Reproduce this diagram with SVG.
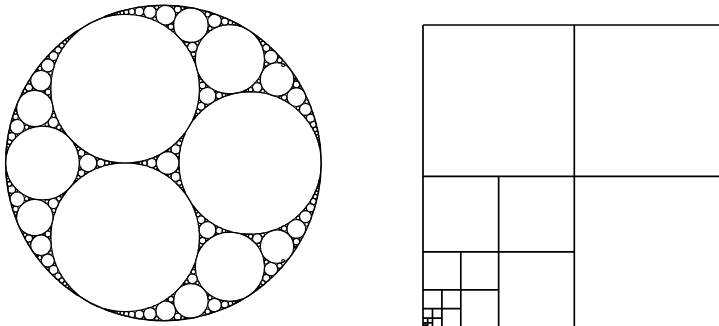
<svg xmlns="http://www.w3.org/2000/svg" xmlns:xlink="http://www.w3.org/1999/xlink" width="719" height="326" viewBox="0 0 719 326">
<style>
#gasket circle{fill:none;stroke:#000;stroke-width:1.1;vector-effect:non-scaling-stroke}
#gasket .outer{stroke-width:1.4}
#squares path{fill:none;stroke:#000;stroke-width:1.7}
</style>
<rect width="719" height="326" fill="#fff"/>
<g id="gasket" transform="translate(163.4 163) scale(157.8)">
<g id="axis">
<circle class="outer" cx="0" cy="0" r="1"/>
<circle cx="0.5494" cy="0" r="0.4506"/>
<circle cx="0.0270" cy="0" r="0.0717"/>
<circle cx="-0.7664" cy="0" r="0.2336"/>
<circle cx="-0.0740" cy="0" r="0.0293"/>
<circle cx="-0.1192" cy="0" r="0.0159"/>
<circle cx="-0.1451" cy="0" r="0.0100"/>
<circle cx="-0.1619" cy="0" r="0.0069"/>
<circle cx="-0.1738" cy="0" r="0.0050"/>
<circle cx="-0.1826" cy="0" r="0.0038"/>
<circle cx="-0.1894" cy="0" r="0.0030"/>
<circle cx="-0.4774" cy="0" r="0.0554"/>
<circle cx="-0.3973" cy="0" r="0.0248"/>
<circle cx="-0.3584" cy="0" r="0.0141"/>
<circle cx="-0.3353" cy="0" r="0.0091"/>
<circle cx="-0.3199" cy="0" r="0.0063"/>
<circle cx="-0.3089" cy="0" r="0.0047"/>
<circle cx="-0.3007" cy="0" r="0.0036"/>
<circle cx="-0.2943" cy="0" r="0.0028"/>
</g>
<g id="upper">
<circle cx="-0.2425" cy="-0.4706" r="0.4706"/>
<circle cx="0.4214" cy="-0.6574" r="0.2191"/>
<circle cx="0.1743" cy="-0.8736" r="0.1092"/>
<circle cx="0.0149" cy="-0.9374" r="0.0625"/>
<circle cx="0.3240" cy="-0.9006" r="0.0429"/>
<circle cx="0.1838" cy="-0.7341" r="0.0306"/>
<circle cx="-0.0857" cy="-0.9563" r="0.0398"/>
<circle cx="0.0906" cy="-0.9742" r="0.0216"/>
<circle cx="0.0475" cy="-0.8638" r="0.0180"/>
<circle cx="-0.1528" cy="-0.9605" r="0.0274"/>
<circle cx="-0.2003" cy="-0.9593" r="0.0200"/>
<circle cx="-0.2353" cy="-0.9563" r="0.0152"/>
<circle cx="-0.2621" cy="-0.9527" r="0.0119"/>
<circle cx="-0.2833" cy="-0.9490" r="0.0096"/>
<circle cx="-0.3004" cy="-0.9455" r="0.0079"/>
<circle cx="-0.3145" cy="-0.9423" r="0.0066"/>
<circle cx="-0.3263" cy="-0.9393" r="0.0056"/>
<circle cx="-0.3364" cy="-0.9366" r="0.0048"/>
<circle cx="-0.3450" cy="-0.9342" r="0.0042"/>
<circle cx="-0.3525" cy="-0.9319" r="0.0037"/>
<circle cx="-0.3591" cy="-0.9298" r="0.0032"/>
<circle cx="-0.3649" cy="-0.9280" r="0.0029"/>
<circle cx="-0.3700" cy="-0.9263" r="0.0026"/>
<circle cx="-0.0424" cy="-0.9863" r="0.0128"/>
<circle cx="-0.0555" cy="-0.9149" r="0.0114"/>
<circle cx="-0.1255" cy="-0.9836" r="0.0084"/>
<circle cx="-0.1283" cy="-0.9351" r="0.0078"/>
<circle cx="0.1221" cy="-0.9816" r="0.0108"/>
<circle cx="0.0640" cy="-0.9891" r="0.0088"/>
<circle cx="0.0838" cy="-0.9464" r="0.0070"/>
<circle cx="0.1392" cy="-0.9838" r="0.0064"/>
<circle cx="0.0612" cy="-0.8411" r="0.0085"/>
<circle cx="0.0226" cy="-0.8681" r="0.0072"/>
<circle cx="0.0594" cy="-0.8849" r="0.0063"/>
<circle cx="0.3891" cy="-0.8968" r="0.0224"/>
<circle cx="0.4247" cy="-0.8902" r="0.0137"/>
<circle cx="0.4468" cy="-0.8843" r="0.0092"/>
<circle cx="0.4619" cy="-0.8795" r="0.0066"/>
<circle cx="0.4728" cy="-0.8755" r="0.0050"/>
<circle cx="0.4810" cy="-0.8723" r="0.0039"/>
<circle cx="0.4874" cy="-0.8696" r="0.0031"/>
<circle cx="0.3705" cy="-0.9205" r="0.0077"/>
<circle cx="0.3677" cy="-0.8769" r="0.0069"/>
<circle cx="0.2805" cy="-0.9420" r="0.0171"/>
<circle cx="0.2586" cy="-0.9565" r="0.0091"/>
<circle cx="0.3039" cy="-0.9458" r="0.0066"/>
<circle cx="0.2950" cy="-0.8525" r="0.0133"/>
<circle cx="0.2837" cy="-0.8361" r="0.0065"/>
<circle cx="0.1901" cy="-0.6896" r="0.0144"/>
<circle cx="0.1941" cy="-0.6673" r="0.0083"/>
<circle cx="0.1969" cy="-0.6537" r="0.0054"/>
<circle cx="0.1988" cy="-0.6447" r="0.0038"/>
<circle cx="0.1469" cy="-0.7555" r="0.0120"/>
<circle cx="0.1319" cy="-0.7661" r="0.0064"/>
<circle cx="0.2158" cy="-0.7607" r="0.0110"/>
<circle cx="0.7203" cy="-0.5296" r="0.1059"/>
<circle cx="0.8424" cy="-0.4178" r="0.0597"/>
<circle cx="0.9004" cy="-0.3395" r="0.0377"/>
<circle cx="0.9318" cy="-0.2842" r="0.0258"/>
<circle cx="0.9505" cy="-0.2438" r="0.0188"/>
<circle cx="0.9625" cy="-0.2131" r="0.0142"/>
<circle cx="0.9706" cy="-0.1891" r="0.0111"/>
<circle cx="0.9764" cy="-0.1699" r="0.0089"/>
<circle cx="0.9806" cy="-0.1541" r="0.0073"/>
<circle cx="0.9838" cy="-0.1411" r="0.0061"/>
<circle cx="0.9863" cy="-0.1300" r="0.0052"/>
<circle cx="0.9882" cy="-0.1205" r="0.0045"/>
<circle cx="0.9898" cy="-0.1123" r="0.0039"/>
<circle cx="0.9910" cy="-0.1052" r="0.0034"/>
<circle cx="0.9921" cy="-0.0989" r="0.0030"/>
<circle cx="0.8430" cy="-0.4982" r="0.0208"/>
<circle cx="0.8366" cy="-0.5287" r="0.0104"/>
<circle cx="0.8314" cy="-0.5320" r="0.0062"/>
<circle cx="0.8669" cy="-0.4813" r="0.0084"/>
<circle cx="0.8218" cy="-0.4808" r="0.0067"/>
<circle cx="0.7655" cy="-0.4150" r="0.0173"/>
<circle cx="0.7401" cy="-0.4173" r="0.0082"/>
<circle cx="0.7797" cy="-0.3954" r="0.0069"/>
<circle cx="0.9081" cy="-0.3888" r="0.0121"/>
<circle cx="0.8525" cy="-0.3479" r="0.0109"/>
<circle cx="0.9401" cy="-0.3170" r="0.0079"/>
<circle cx="0.9002" cy="-0.2944" r="0.0074"/>
<circle cx="0.6821" cy="-0.6726" r="0.0420"/>
<circle cx="0.6517" cy="-0.7291" r="0.0221"/>
<circle cx="0.6311" cy="-0.7581" r="0.0135"/>
<circle cx="0.6167" cy="-0.7756" r="0.0091"/>
<circle cx="0.6061" cy="-0.7871" r="0.0066"/>
<circle cx="0.5980" cy="-0.7953" r="0.0049"/>
<circle cx="0.5916" cy="-0.8014" r="0.0039"/>
<circle cx="0.5865" cy="-0.8061" r="0.0031"/>
<circle cx="0.6806" cy="-0.7222" r="0.0076"/>
<circle cx="0.6429" cy="-0.7016" r="0.0067"/>
<circle cx="0.7368" cy="-0.6512" r="0.0167"/>
<circle cx="0.7586" cy="-0.6201" r="0.0089"/>
<circle cx="0.7306" cy="-0.6734" r="0.0064"/>
<circle cx="0.6516" cy="-0.6268" r="0.0131"/>
<circle cx="0.6418" cy="-0.6100" r="0.0064"/>
<circle cx="0.5945" cy="-0.4784" r="0.0299"/>
<circle cx="0.5527" cy="-0.4647" r="0.0141"/>
<circle cx="0.5314" cy="-0.4584" r="0.0082"/>
<circle cx="0.5183" cy="-0.4549" r="0.0054"/>
<circle cx="0.5095" cy="-0.4526" r="0.0038"/>
<circle cx="0.6042" cy="-0.5179" r="0.0108"/>
<circle cx="0.6291" cy="-0.4554" r="0.0117"/>
<circle cx="0.2792" cy="-0.4252" r="0.0531"/>
<circle cx="0.2393" cy="-0.3592" r="0.0239"/>
<circle cx="0.2199" cy="-0.3270" r="0.0136"/>
<circle cx="0.2084" cy="-0.3078" r="0.0088"/>
<circle cx="0.2007" cy="-0.2950" r="0.0061"/>
<circle cx="0.1952" cy="-0.2858" r="0.0045"/>
<circle cx="0.1911" cy="-0.2790" r="0.0035"/>
<circle cx="0.2293" cy="-0.3897" r="0.0081"/>
<circle cx="0.2709" cy="-0.3645" r="0.0081"/>
<circle cx="0.2481" cy="-0.4919" r="0.0205"/>
<circle cx="0.2363" cy="-0.5210" r="0.0109"/>
<circle cx="0.2301" cy="-0.5374" r="0.0067"/>
<circle cx="0.2263" cy="-0.5480" r="0.0046"/>
<circle cx="0.2237" cy="-0.5555" r="0.0033"/>
<circle cx="0.2355" cy="-0.4670" r="0.0074"/>
<circle cx="0.2748" cy="-0.4852" r="0.0070"/>
<circle cx="0.3527" cy="-0.4280" r="0.0204"/>
<circle cx="0.3837" cy="-0.4306" r="0.0108"/>
<circle cx="0.4010" cy="-0.4325" r="0.0067"/>
<circle cx="0.4121" cy="-0.4339" r="0.0045"/>
<circle cx="0.4198" cy="-0.4350" r="0.0033"/>
<circle cx="0.3364" cy="-0.4055" r="0.0074"/>
<circle cx="0.3347" cy="-0.4486" r="0.0070"/>
<circle cx="0.0777" cy="-0.0871" r="0.0290"/>
<circle cx="0.1003" cy="-0.1257" r="0.0157"/>
<circle cx="0.1133" cy="-0.1478" r="0.0099"/>
<circle cx="0.1217" cy="-0.1621" r="0.0068"/>
<circle cx="0.1276" cy="-0.1721" r="0.0049"/>
<circle cx="0.1320" cy="-0.1796" r="0.0037"/>
<circle cx="0.1354" cy="-0.1853" r="0.0029"/>
<circle cx="0.0390" cy="-0.0810" r="0.0101"/>
<circle cx="0.0244" cy="-0.0768" r="0.0051"/>
<circle cx="0.0166" cy="-0.0741" r="0.0031"/>
<circle cx="0.0915" cy="-0.0505" r="0.0101"/>
<circle cx="0.0951" cy="-0.0357" r="0.0051"/>
<circle cx="0.0966" cy="-0.0277" r="0.0031"/>
<circle cx="-0.0490" cy="-0.0305" r="0.0102"/>
<circle cx="-0.0379" cy="-0.0411" r="0.0051"/>
<circle cx="-0.0317" cy="-0.0464" r="0.0031"/>
<circle cx="-0.8147" cy="-0.3454" r="0.1151"/>
<circle cx="-0.7759" cy="-0.5214" r="0.0652"/>
<circle cx="-0.7325" cy="-0.6186" r="0.0412"/>
<circle cx="-0.6963" cy="-0.6779" r="0.0282"/>
<circle cx="-0.6673" cy="-0.7171" r="0.0205"/>
<circle cx="-0.6441" cy="-0.7446" r="0.0155"/>
<circle cx="-0.6252" cy="-0.7648" r="0.0121"/>
<circle cx="-0.6097" cy="-0.7803" r="0.0098"/>
<circle cx="-0.5968" cy="-0.7924" r="0.0080"/>
<circle cx="-0.5858" cy="-0.8022" r="0.0067"/>
<circle cx="-0.5764" cy="-0.8102" r="0.0057"/>
<circle cx="-0.5683" cy="-0.8169" r="0.0049"/>
<circle cx="-0.5612" cy="-0.8226" r="0.0042"/>
<circle cx="-0.5549" cy="-0.8274" r="0.0037"/>
<circle cx="-0.5494" cy="-0.8317" r="0.0033"/>
<circle cx="-0.5445" cy="-0.8353" r="0.0029"/>
<circle cx="-0.9262" cy="-0.2293" r="0.0459"/>
<circle cx="-0.9612" cy="-0.1687" r="0.0241"/>
<circle cx="-0.9762" cy="-0.1329" r="0.0148"/>
<circle cx="-0.9840" cy="-0.1094" r="0.0099"/>
<circle cx="-0.9885" cy="-0.0929" r="0.0071"/>
<circle cx="-0.9913" cy="-0.0807" r="0.0054"/>
<circle cx="-0.9932" cy="-0.0713" r="0.0042"/>
<circle cx="-0.9946" cy="-0.0639" r="0.0034"/>
<circle cx="-0.9956" cy="-0.0578" r="0.0028"/>
<circle cx="-0.9372" cy="-0.2924" r="0.0183"/>
<circle cx="-0.9370" cy="-0.3204" r="0.0097"/>
<circle cx="-0.9355" cy="-0.3361" r="0.0060"/>
<circle cx="-0.9544" cy="-0.2740" r="0.0070"/>
<circle cx="-0.8662" cy="-0.2268" r="0.0142"/>
<circle cx="-0.8452" cy="-0.2272" r="0.0069"/>
<circle cx="-0.6973" cy="-0.2565" r="0.0321"/>
<circle cx="-0.6618" cy="-0.2256" r="0.0150"/>
<circle cx="-0.6444" cy="-0.2094" r="0.0087"/>
<circle cx="-0.6341" cy="-0.1994" r="0.0057"/>
<circle cx="-0.6272" cy="-0.1925" r="0.0040"/>
<circle cx="-0.6222" cy="-0.1876" r="0.0030"/>
<circle cx="-0.6950" cy="-0.3011" r="0.0125"/>
<circle cx="-0.6955" cy="-0.3203" r="0.0067"/>
<circle cx="-0.7391" cy="-0.2437" r="0.0116"/>
<circle cx="-0.8524" cy="-0.4780" r="0.0228"/>
<circle cx="-0.8777" cy="-0.4551" r="0.0114"/>
<circle cx="-0.8897" cy="-0.4415" r="0.0068"/>
<circle cx="-0.8494" cy="-0.5099" r="0.0093"/>
<circle cx="-0.8242" cy="-0.4674" r="0.0073"/>
<circle cx="-0.7315" cy="-0.4502" r="0.0188"/>
<circle cx="-0.7198" cy="-0.4252" r="0.0089"/>
<circle cx="-0.7147" cy="-0.4121" r="0.0052"/>
<circle cx="-0.7206" cy="-0.4742" r="0.0075"/>
<circle cx="-0.7567" cy="-0.4523" r="0.0066"/>
<circle cx="-0.7836" cy="-0.5996" r="0.0133"/>
<circle cx="-0.8003" cy="-0.5888" r="0.0065"/>
<circle cx="-0.7149" cy="-0.5685" r="0.0118"/>
<circle cx="-0.7320" cy="-0.6685" r="0.0087"/>
<circle cx="-0.6893" cy="-0.6423" r="0.0080"/>
<circle cx="-0.9714" cy="-0.1995" r="0.0083"/>
<circle cx="-0.9307" cy="-0.1763" r="0.0073"/>
<circle cx="-0.5196" cy="-0.0641" r="0.0214"/>
<circle cx="-0.5388" cy="-0.0905" r="0.0113"/>
<circle cx="-0.5500" cy="-0.1051" r="0.0070"/>
<circle cx="-0.5572" cy="-0.1143" r="0.0048"/>
<circle cx="-0.5624" cy="-0.1207" r="0.0034"/>
<circle cx="-0.4907" cy="-0.0617" r="0.0077"/>
<circle cx="-0.5283" cy="-0.0367" r="0.0073"/>
<circle cx="-0.4189" cy="-0.0252" r="0.0084"/>
</g>
<use id="lower" href="#upper" xlink:href="#upper" transform="scale(1 -1)"/>
</g>
<g id="squares">
<path d="M423 25H719M423 176.3H719M423 25V326M574.3 25V326"/>
<path d="M498.65 176.3V326M423 251.95H574.3"/>
<path d="M460.8 251.95V326M423 289.8H498.65"/>
<path d="M441.9 289.8V326M423 308.7H460.8"/>
<path d="M432.5 308.7V326M423 318.2H441.9"/>
<path d="M427.7 318.2V326M423 322.9H432.5"/>
<path d="M425.4 322.9V326M423 325.3H427.7"/>
</g>
</svg>
